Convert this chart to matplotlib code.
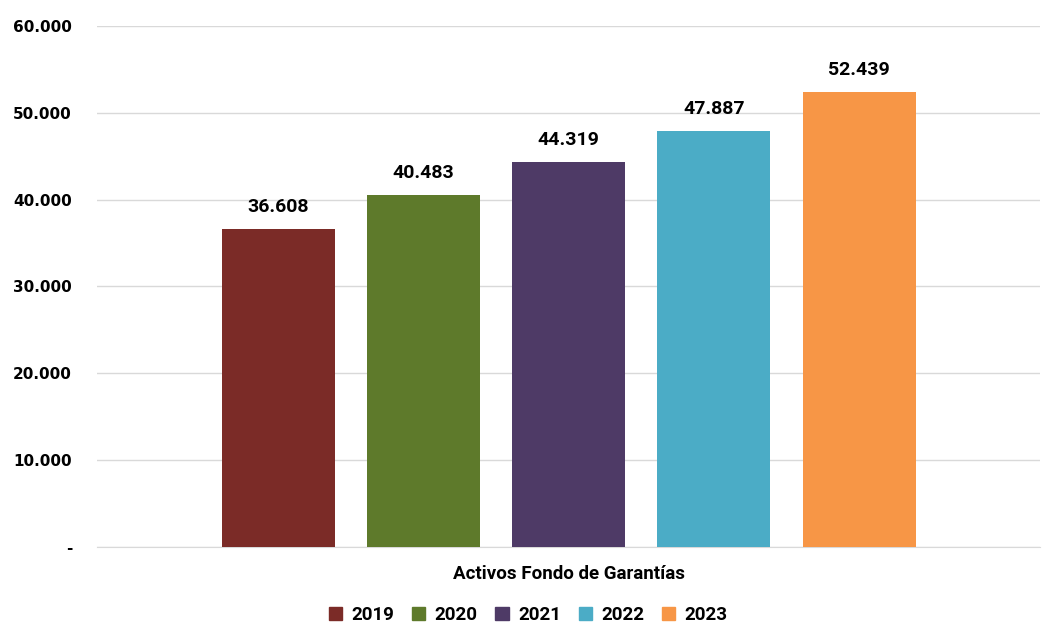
import numpy as np
import matplotlib.pyplot as plt
from matplotlib.patches import Patch

years = ['2019', '2020', '2021', '2022', '2023']
values = [36608, 40483, 44319, 47887, 52439]
colors = ['#7B2B27', '#5E7A2B', '#4E3A66', '#4BACC6', '#F79646']
category = 'Activos Fondo de Garantías'
yticks = [0, 10000, 20000, 30000, 40000, 50000, 60000]


def fmt(v):
    return '-' if v == 0 else f'{v:,.0f}'.replace(',', '.')


lab_font = 'Roboto'

fig = plt.figure(figsize=(10.48, 6.42), dpi=100)
ax = fig.add_axes([0.0926, 0.148, 0.900, 0.8115])

step = 0.154
width = 0.12
for i, (y, v, c) in enumerate(zip(years, values, colors)):
    x = (i - 2) * step
    ax.bar(x, v, width=width, color=c, zorder=3)
    ax.text(x, v + 1500, fmt(v), ha='center', va='bottom',
            fontsize=14, fontweight='bold', family=lab_font)

ax.set_xlim(-0.5, 0.5)
ax.set_ylim(0, 60000)
ax.set_yticks(yticks)
ax.set_yticklabels([fmt(v) for v in yticks], fontsize=11, fontweight='bold')
ax.set_xticks([0])
ax.set_xticklabels([category], fontsize=13.5, fontweight='bold', family=lab_font)
ax.tick_params(axis='y', length=0, pad=18)
ax.tick_params(axis='x', length=0, pad=13)
ax.grid(axis='y', color='#D9D9D9', linewidth=1, zorder=0)
for s in ['top', 'right', 'left']:
    ax.spines[s].set_visible(False)
ax.spines['bottom'].set_color('#D9D9D9')

handles = [Patch(color=c, label=y) for y, c in zip(years, colors)]
fig.legend(handles=handles, loc='center', bbox_to_anchor=(0.504, 0.042), ncol=5,
           frameon=False, prop={'family': lab_font, 'weight': 'bold', 'size': 13.5},
           handlelength=0.7, handleheight=0.7, columnspacing=0.95, handletextpad=0.5)

fig.savefig('out.png', dpi=100)
